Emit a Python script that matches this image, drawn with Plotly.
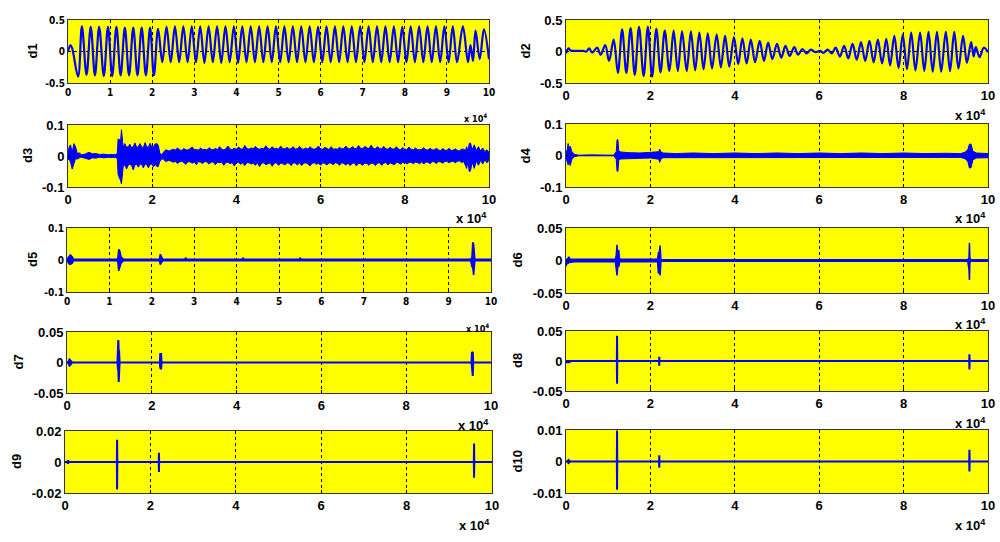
from plotly import graph_objects as go
from plotly.subplots import make_subplots

WIDTH = 1000
HEIGHT = 542

# x axis is in units of 10^4 samples
d1_x = [0, 0.06, 0.1, 0.24, 0.33, 0.44, 0.54, 0.64, 0.74, 0.85, 0.95, 1.05, 1.15, 1.25, 1.35, 1.45, 1.55, 1.65,
        1.75, 1.85, 1.95, 2.04, 2.14, 2.24, 2.34, 2.44, 2.54, 2.64, 2.74, 2.84, 2.94, 3.04, 3.14, 3.24, 3.34,
        3.44, 3.54, 3.64, 3.74, 3.84, 3.94, 4.04, 4.14, 4.24, 4.34, 4.44, 4.54, 4.64, 4.74, 4.84, 4.94, 5.04,
        5.14, 5.24, 5.34, 5.44, 5.54, 5.64, 5.74, 5.84, 5.94, 6.04, 6.14, 6.24, 6.34, 6.44, 6.54, 6.64, 6.74,
        6.84, 6.94, 7.04, 7.14, 7.24, 7.34, 7.44, 7.54, 7.64, 7.74, 7.84, 7.94, 8.04, 8.14, 8.24, 8.34, 8.44,
        8.54, 8.64, 8.74, 8.84, 8.94, 9.04, 9.14, 9.24, 9.38, 9.5, 9.56, 9.62, 9.68, 9.78, 9.88, 10]
d1_y = [0, 0.1, 0.05, -0.4, 0.4, -0.37, 0.39, -0.38, 0.39, -0.39, 0.39, -0.39, 0.39, -0.38, 0.38, -0.38, 0.38, -0.38,
        0.38, -0.38, 0.38, -0.38, 0.36, -0.17, 0.39, -0.17, 0.4, -0.17, 0.4, -0.17, 0.4, -0.17, 0.4, -0.18, 0.4,
        -0.17, 0.4, -0.18, 0.4, -0.17, 0.4, -0.18, 0.4, -0.17, 0.4, -0.17, 0.4, -0.17, 0.4, -0.17, 0.4, -0.17,
        0.4, -0.17, 0.4, -0.17, 0.4, -0.17, 0.4, -0.17, 0.39, -0.17, 0.4, -0.17, 0.4, -0.17, 0.4, -0.17, 0.4,
        -0.17, 0.4, -0.17, 0.4, -0.17, 0.4, -0.17, 0.4, -0.17, 0.4, -0.17, 0.39, -0.17, 0.4, -0.17, 0.4, -0.17,
        0.4, -0.17, 0.4, -0.17, 0.4, -0.17, 0.4, -0.17, 0.4, -0.17, 0.1, -0.15, 0.33, -0.12, 0.35, -0.12]

d2_x = [0, 0.06, 0.1, 0.15, 0.4, 0.48, 0.55, 0.62, 0.74, 0.82, 0.93, 1.02, 1.13, 1.23, 1.33, 1.43, 1.53, 1.63, 1.73,
        1.84, 1.94, 2.04, 2.14, 2.24, 2.34, 2.45, 2.55, 2.65, 2.75, 2.86, 2.96, 3.06, 3.16, 3.26, 3.36, 3.46,
        3.57, 3.67, 3.77, 3.87, 3.98, 4.08, 4.18, 4.28, 4.38, 4.48, 4.59, 4.69, 4.79, 4.89, 5.0, 5.1, 5.2, 5.3,
        5.41, 5.5, 5.6, 5.7, 5.8, 5.91, 6.02, 6.1, 6.2, 6.3, 6.39, 6.49, 6.59, 6.69, 6.79, 6.89, 6.99, 7.09,
        7.19, 7.29, 7.39, 7.49, 7.59, 7.68, 7.78, 7.88, 7.98, 8.08, 8.18, 8.28, 8.39, 8.49, 8.59, 8.69, 8.79,
        8.89, 9.0, 9.1, 9.2, 9.3, 9.41, 9.5, 9.6, 9.66, 9.71, 9.8, 9.9, 10]
d2_y = [-0.03, 0.05, 0.02, 0.01, 0.01, 0, 0.05, -0.02, 0.06, -0.05, 0.1, -0.15, 0.19, -0.34, 0.35, -0.34, 0.37, -0.37,
        0.39, -0.39, 0.39, -0.4, 0.36, -0.33, 0.33, -0.31, 0.33, -0.31, 0.32, -0.31, 0.32, -0.3, 0.3, -0.28, 0.29,
        -0.27, 0.27, -0.25, 0.25, -0.24, 0.23, -0.2, 0.21, -0.19, 0.19, -0.17, 0.17, -0.15, 0.14, -0.12, 0.12,
        -0.1, 0.09, -0.07, 0.07, -0.05, 0.04, -0.03, 0.03, -0.01, 0.01, -0.02, 0.03, -0.03, 0.06, -0.08, 0.09,
        -0.11, 0.12, -0.13, 0.15, -0.15, 0.17, -0.17, 0.19, -0.19, 0.2, -0.22, 0.25, -0.26, 0.27, -0.28, 0.3,
        -0.3, 0.3, -0.31, 0.31, -0.32, 0.31, -0.32, 0.31, -0.31, 0.31, -0.27, 0.25, -0.18, 0.15, -0.08, 0.07,
        -0.09, 0.06, -0.01]

d3_x = [0, 0.03, 0.06, 0.1, 0.14, 0.18, 0.22, 0.27, 0.32,
        0.4, 0.5, 0.58, 0.66, 0.75, 0.85, 0.95, 1.05, 1.12,
        1.17, 1.19, 1.25, 1.27,
        1.31, 1.35, 1.39, 1.43, 1.47, 1.51, 1.55, 1.59, 1.63, 1.67, 1.71, 1.75, 1.79, 1.83, 1.87, 1.91, 1.95, 1.99,
        2.03, 2.07, 2.11,
        2.14, 2.18, 2.22, 2.27, 2.32,
        2.4, 2.45, 2.5, 2.55, 2.6, 2.65, 2.7, 2.75, 2.8, 2.85, 2.9, 2.95, 3.0, 3.05, 3.1, 3.15, 3.2, 3.25, 3.3, 3.35,
        3.4, 3.45, 3.5, 3.55, 3.6, 3.65, 3.7, 3.75, 3.8, 3.85, 3.9, 3.95, 4.0, 4.05, 4.1, 4.15, 4.2, 4.25, 4.3, 4.35,
        4.4, 4.45, 4.5, 4.55, 4.6, 4.65, 4.7, 4.75, 4.8, 4.85, 4.9, 4.95, 5.0, 5.05, 5.1, 5.15, 5.2, 5.25, 5.3, 5.35,
        5.4, 5.45, 5.5, 5.55, 5.6, 5.65, 5.7, 5.75, 5.8, 5.85, 5.9, 5.95, 6.0, 6.05, 6.1, 6.15, 6.2, 6.25, 6.3, 6.35,
        6.4, 6.45, 6.5, 6.55, 6.6, 6.65, 6.7, 6.75, 6.8, 6.85, 6.9, 6.95, 7.0, 7.05, 7.1, 7.15, 7.2, 7.25, 7.3, 7.35,
        7.4, 7.45, 7.5, 7.55, 7.6, 7.65, 7.7, 7.75, 7.8, 7.85, 7.9, 7.95, 8.0, 8.05, 8.1, 8.15, 8.2, 8.25, 8.3, 8.35,
        8.4, 8.45, 8.5, 8.55, 8.6, 8.65, 8.7, 8.75, 8.8, 8.85, 8.9, 8.95, 9.0, 9.05, 9.1, 9.15, 9.2, 9.25, 9.3, 9.35,
        9.4, 9.44, 9.47, 9.5, 9.53, 9.56, 9.6, 9.65, 9.7, 9.75, 9.8, 9.85, 9.9, 9.95, 10]
d3_upper = [.01, .03, .036, .012, .04, .03, .008, .01, .004,
            .006, .012, .007, .008, .005, .006, .004, .005, .004,
            .008, .055, .05, .085,
            .028, .04, .028, .03, .038, .027, .03, .042, .028, .03, .04, .029, .027, .043, .03, .028, .041, .029,
            .03, .039, .04,
            .036, .01, .004, .012, .02,
            .016, .018, .022, .019, .026, .02, .018, .024, .02, .019, .023, .029, .02, .021, .019, .026, .02, .022, .019, .027,
            .021, .02, .024, .021, .03, .022, .02, .023, .032, .022, .021, .025, .022, .029, .023, .022, .034, .024, .022, .026,
            .023, .031, .024, .022, .025, .023, .033, .024, .022, .03, .023, .025, .022, .032, .024, .023, .028, .022, .024, .03,
            .022, .024, .031, .023, .022, .026, .022, .03, .023, .022, .025, .032, .023, .022, .028, .023, .021, .03, .022, .023,
            .022, .028, .023, .024, .032, .024, .023, .03, .025, .024, .034, .025, .024, .031, .026, .024, .035, .025, .023, .03,
            .024, .023, .031, .023, .022, .028, .023, .022, .03, .022, .021, .027, .022, .021, .029, .021, .02, .026, .021, .02,
            .021, .027, .02, .019, .025, .02, .019, .026, .019, .018, .024, .019, .018, .025, .018, .019, .023, .018, .017, .022,
            .022, .018, .03, .014, .04, .042, .02, .036, .018, .03, .016, .026, .014, .02, .012]
d3_lower = [-.012, -.01, -.02, -.042, -.025, -.008, -.01, -.006, -.004,
            -.007, -.011, -.006, -.007, -.004, -.006, -.004, -.005, -.004,
            -.008, -.06, -.08, -.09,
            -.035, -.028, -.042, -.03, -.027, -.03, -.045, -.028, -.027, -.036, -.026, -.027, -.038, -.026, -.028, -.038,
            -.027, -.026, -.035, -.027, -.034,
            -.035, -.018, -.01, -.01, -.018,
            -.014, -.017, -.02, -.018, -.024, -.019, -.017, -.021, -.027, -.018, -.019, -.023, -.019, -.028, -.018, -.02, -.024, -.018, -.019, -.026,
            -.02, -.019, -.028, -.02, -.022, -.019, -.03, -.021, -.02, -.025, -.021, -.032, -.022, -.02, -.027, -.022, -.031, -.021, -.022, -.026,
            -.023, -.03, -.022, -.034, -.023, -.022, -.028, -.024, -.022, -.033, -.023, -.022, -.03, -.023, -.024, -.029, -.022, -.023, -.031, -.022,
            -.023, -.029, -.022, -.031, -.023, -.022, -.026, -.032, -.023, -.022, -.027, -.023, -.03, -.022, -.024, -.029, -.022, -.023, -.028, -.022,
            -.023, -.03, -.022, -.024, -.029, -.023, -.031, -.024, -.022, -.032, -.023, -.025, -.03, -.023, -.024, -.03, -.023, -.024, -.031, -.023,
            -.022, -.03, -.023, -.021, -.029, -.022, -.024, -.028, -.021, -.022, -.027, -.021, -.02, -.026, -.021, -.02, -.025, -.02, -.021, -.025,
            -.019, -.026, -.019, -.02, -.025, -.018, -.019, -.024, -.018, -.019, -.023, -.018, -.017, -.022, -.018, -.017, -.022, -.017, -.016, -.021,
            -.018, -.03, -.04, -.014, -.05, -.048, -.02, -.04, -.016, -.03, -.014, -.026, -.012, -.022, -.014]

d4_x = [0, 0.03, 0.05, 0.08, 0.1, 0.14, 0.2, 0.3, 0.6, 1.12, 1.16, 1.19, 1.21, 1.23, 1.25, 1.3, 1.5, 1.75, 2.0, 2.15,
        2.2, 2.22, 2.25, 2.3, 2.6, 3.0, 3.5, 4.0, 4.5, 5.0, 5.5, 6.0, 6.5, 7.0, 7.5, 8.0, 8.5, 9.0, 9.35, 9.45, 9.52,
        9.56, 9.6, 9.64, 9.72, 10]
d4_upper = [.006, .02, .038, .02, .03, .012, .004, .001, .002, .001, .006, .012, .05, .05, .014, .011, .009, .008,
            .01, .011, .012, .02, .011, .008, .006, .008, .006, .008, .006, .008, .006, .008, .006, .008, .006, .008,
            .006, .007, .006, .01, .018, .036, .036, .014, .008, .006]
d4_lower = [-.006, -.02, -.03, -.02, -.032, -.012, -.004, -.001, -.001, -.001, -.006, -.012, -.05, -.05, -.014, -.011,
            -.009, -.009, -.008, -.011, -.012, -.022, -.011, -.007, -.007, -.006, -.008, -.006, -.008, -.006, -.008,
            -.006, -.008, -.006, -.008, -.006, -.007, -.006, -.006, -.01, -.018, -.04, -.038, -.014, -.008, -.007]

d5_x = [0, 0.05, 0.08, 0.12, 0.16, 0.25, 1.18, 1.2, 1.22, 1.24, 1.28, 1.34, 2.18, 2.2, 2.22, 2.26, 2.77, 2.8, 2.83,
        4.12, 4.15, 4.18, 5.47, 5.5, 5.53, 9.52, 9.55, 9.57, 9.59, 9.62, 10]
d5_upper = [.002, .01, .016, .01, .002, .002, .002, .008, .033, .03, .008, .002, .002, .018, .012, .002, .002, .006,
            .002, .002, .006, .002, .002, .006, .002, .002, .008, .055, .05, .002, .002]
d5_lower = [-.002, -.012, -.014, -.01, -.002, -.002, -.002, -.008, -.034, -.03, -.008, -.002, -.002, -.014, -.01,
            -.002, -.002, -.002, -.002, -.002, -.002, -.002, -.002, -.002, -.002, -.002, -.02, -.025, -.047, -.002,
            -.002]

d6_x = [0, 0.01, 0.04, 0.07, 0.1, 0.2, 1.17, 1.19, 1.21, 1.23, 1.25, 1.27, 1.3, 2.17, 2.19, 2.21, 2.23, 2.25, 2.3,
        9.52, 9.55, 9.56, 9.57, 9.59, 10]
d6_upper = [.001, .001, .003, .005, .002, .002, .002, .008, .024, .006, .016, .002, .002, .002, .012, .012, .023, .001,
            .001, .001, .004, .027, .004, .001, .001]
d6_lower = [-.009, -.003, -.005, -.003, -.002, -.002, -.002, -.008, -.023, -.006, -.01, -.002, -.002, -.002, -.02,
            -.012, -.023, -.001, -.001, -.001, -.014, -.03, -.004, -.001, -.001]

d7_x = [0, 0.03, 0.06, 0.09, 0.12, 1.19, 1.2, 1.21, 1.22, 1.23, 1.24, 2.19, 2.2, 2.22, 2.23, 9.54, 9.55, 9.57, 9.58, 10]
d7_upper = [0, .001, .005, .003, 0, 0, .037, .037, .018, .018, 0, 0, .014, .014, 0, 0, .016, .017, 0, 0]
d7_lower = [0, -.001, -.005, -.003, 0, 0, -.01, -.01, -.032, -.032, 0, 0, -.009, -.011, 0, 0, -.012, -.022, 0, 0]

d8_x = [0, 0.03, 0.08, 0.12, 1.205, 1.21, 1.215, 2.205, 2.21, 2.215, 9.555, 9.56, 9.565, 10]
d8_upper = [0, 0, 0, 0, 0, .042, 0, 0, .007, 0, 0, .011, 0, 0]
d8_lower = [-.002, -.002, -.002, 0, 0, -.038, 0, 0, -.008, 0, 0, -.014, 0, 0]

d9_x = [0, 0.05, 0.07, 0.09, 1.215, 1.22, 1.225, 2.195, 2.2, 2.205, 9.575, 9.58, 9.585, 10]
d9_upper = [0, 0, .001, 0, 0, .0143, 0, 0, .006, 0, 0, .012, 0, 0]
d9_lower = [0, 0, -.001, 0, 0, -.0177, 0, 0, -.0065, 0, 0, -.0102, 0, 0]

d10_x = [0, 0.03, 0.06, 0.1, 1.205, 1.21, 1.215, 2.205, 2.21, 2.215, 9.555, 9.56, 9.565, 10]
d10_upper = [0, 0, .0005, 0, 0, .0098, 0, 0, .002, 0, 0, .0037, 0, 0]
d10_lower = [0, 0, -.0005, 0, 0, -.009, 0, 0, -.002, 0, 0, -.0032, 0, 0]

ticks_by_1 = [0, 1, 2, 3, 4, 5, 6, 7, 8, 9, 10]
ticks_by_2 = [0, 2, 4, 6, 8, 10]

BLUE = '#0000ff'
YELLOW = '#ffff00'
NARROW = 'Liberation Sans Narrow, DejaVu Sans Condensed, Liberation Sans'
BOLD = 'Liberation Sans'

# name, row, col, pixel box (left, right, top, bottom), y limit, y tick text, x ticks, small font,
# y label x pixel, multiplier (right, y, small)
panels = [
    ('d1', 1, 1, (68, 489, 20, 83), 0.5, ['-0.5', '0', '0.5'], ticks_by_1, True, 32, (489, 118, True)),
    ('d2', 1, 2, (566, 988, 20, 83), 0.5, ['-0.5', '0', '0.5'], ticks_by_2, False, 525, (988, 115, False)),
    ('d3', 2, 1, (68, 489, 125, 187), 0.1, ['-0.1', '0', '0.1'], ticks_by_2, False, 27, (489, 218, False)),
    ('d4', 2, 2, (566, 988, 124, 187), 0.1, ['-0.1', '0', '0.1'], ticks_by_2, False, 525, (988, 218, False)),
    ('d5', 3, 1, (67, 491, 228, 292), 0.1, ['-0.1', '0', '0.1'], ticks_by_1, True, 33, (491, 328, True)),
    ('d6', 3, 2, (566, 988, 228, 293), 0.05, ['-0.05', '0', '0.05'], ticks_by_2, False, 517, (988, 324, False)),
    ('d7', 4, 1, (67, 491, 332, 393), 0.05, ['-0.05', '0', '0.05'], ticks_by_2, False, 18, (491, 425, False)),
    ('d8', 4, 2, (566, 988, 331, 391), 0.05, ['-0.05', '0', '0.05'], ticks_by_2, False, 517, (988, 423, False)),
    ('d9', 5, 1, (65, 492, 431, 493), 0.02, ['-0.02', '0', '0.02'], ticks_by_2, False, 16, (492, 525, False)),
    ('d10', 5, 2, (566, 988, 430, 493), 0.01, ['-0.01', '0', '0.01'], ticks_by_2, False, 517, (988, 525, False)),
]

# dense channels: upper and lower edge of the blue band
bands = {
    'd3': (d3_x, d3_upper, d3_lower, 1),
    'd4': (d4_x, d4_upper, d4_lower, 1),
    'd5': (d5_x, d5_upper, d5_lower, 1.5),
    'd6': (d6_x, d6_upper, d6_lower, 1.5),
    'd7': (d7_x, d7_upper, d7_lower, 2),
    'd8': (d8_x, d8_upper, d8_lower, 2),
    'd9': (d9_x, d9_upper, d9_lower, 2),
    'd10': (d10_x, d10_upper, d10_lower, 2),
}
waves = {'d1': (d1_x, d1_y), 'd2': (d2_x, d2_y)}

fig = make_subplots(rows=5, cols=2)
annotations = []

for name, row, col, box, limit, ytext, xticks, small, label_x, mult in panels:
    left, right, top, bottom = box
    if name in waves:
        x, y = waves[name]
        fig.add_trace(go.Scatter(x=x, y=y, mode='lines', showlegend=False, name=name,
                                 line=dict(color=BLUE, width=2.2, shape='spline', smoothing=1)),
                      row=row, col=col)
    else:
        x, upper, lower, lw = bands[name]
        assert len(x) == len(upper) == len(lower), name
        fig.add_trace(go.Scatter(x=x + x[::-1], y=upper + lower[::-1], mode='lines', showlegend=False, name=name,
                                 fill='toself', fillcolor=BLUE, line=dict(color=BLUE, width=lw)),
                      row=row, col=col)

    tick_font = dict(family=NARROW, size=10, color='black', weight=700) if small \
        else dict(family=BOLD, size=13, color='black', weight=700)
    axis_style = dict(showline=True, mirror=True, linecolor='#333333', linewidth=1, ticks='inside', ticklen=3,
                      tickcolor='black', showgrid=True, gridcolor='black', gridwidth=1, griddash='3px,3px',
                      zeroline=False, automargin=False, tickfont=tick_font)
    fig.update_xaxes(domain=[left / WIDTH, right / WIDTH], range=[0, 10], tickmode='array', tickvals=xticks,
                     ticktext=[str(t) for t in xticks], row=row, col=col, **axis_style)
    fig.update_yaxes(domain=[1 - bottom / HEIGHT, 1 - top / HEIGHT], range=[-limit, limit], tickmode='array',
                     tickvals=[-limit, 0, limit], ticktext=ytext, row=row, col=col, **axis_style)

    annotations.append(dict(text=name, x=label_x / WIDTH, y=1 - (top + bottom) / 2 / HEIGHT, xref='paper', yref='paper',
                            textangle=-90, showarrow=False, xanchor='center', yanchor='middle',
                            font=dict(family=BOLD, size=13, color='black', weight=700)))
    mult_right, mult_y, mult_small = mult
    annotations.append(dict(text='x 10<sup>4</sup>', x=mult_right / WIDTH, y=1 - mult_y / HEIGHT, xref='paper',
                            yref='paper', showarrow=False, xanchor='right', yanchor='middle',
                            font=dict(family=NARROW if mult_small else BOLD, size=9 if mult_small else 13,
                                      color='black', weight=700)))

fig.update_layout(width=WIDTH, height=HEIGHT, margin=dict(l=0, r=0, t=0, b=0), paper_bgcolor='white',
                  plot_bgcolor=YELLOW, showlegend=False, annotations=annotations)

fig.write_html("out.html", config={'displayModeBar': False}, post_script="document.body.style.margin='0';")
